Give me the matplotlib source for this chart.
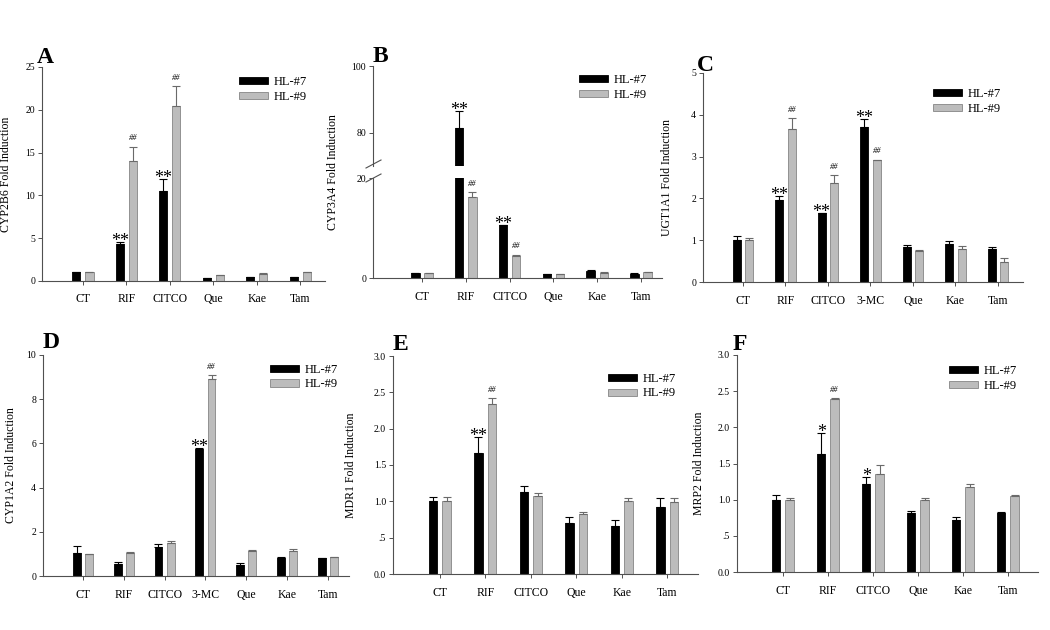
import numpy as np
import matplotlib
matplotlib.use("Agg")
import matplotlib.pyplot as plt
from matplotlib.lines import Line2D
from matplotlib.patches import Patch

plt.rcParams["font.family"] = ["Liberation Serif", "DejaVu Serif"]

W, H = 1050, 630
BLACK = "#000000"
GRAY = "#bcbcbc"
GRAY_EDGE = "#858585"
AXIS_COL = "#505050"

CATS6 = ["CT", "RIF", "CITCO", "Que", "Kae", "Tam"]
CATS7 = ["CT", "RIF", "CITCO", "3-MC", "Que", "Kae", "Tam"]

# A: CYP2B6
a_hl7 = [1.0, 4.3, 10.5, 0.3, 0.45, 0.45]
a_hl7_err = [0.05, 0.3, 1.4, 0.03, 0.03, 0.03]
a_hl9 = [1.0, 14.0, 20.5, 0.7, 0.85, 1.0]
a_hl9_err = [0.1, 1.7, 2.3, 0.05, 0.05, 0.05]
a_star = ["", "**", "**", "", "", ""]
a_hash = ["", "##", "##", "", "", ""]

# B: CYP3A4 (broken axis)
b_hl7 = [1.0, 81.5, 10.6, 0.8, 1.5, 0.9]
b_hl7_err = [0.05, 5.0, 0.1, 0.05, 0.05, 0.05]
b_hl9 = [1.0, 16.3, 4.4, 0.8, 1.1, 1.2]
b_hl9_err = [0.05, 0.9, 0.3, 0.05, 0.05, 0.05]
b_star = ["", "**", "**", "", "", ""]
b_hash = ["", "##", "##", "", "", ""]

# C: UGT1A1
c_hl7 = [1.0, 1.95, 1.65, 3.7, 0.83, 0.9, 0.8]
c_hl7_err = [0.1, 0.1, 0.01, 0.2, 0.05, 0.08, 0.03]
c_hl9 = [1.0, 3.65, 2.37, 2.92, 0.73, 0.8, 0.48]
c_hl9_err = [0.05, 0.28, 0.18, 0.01, 0.04, 0.05, 0.1]
c_star = ["", "**", "**", "**", "", "", ""]
c_hash = ["", "##", "##", "##", "", "", ""]

# D: CYP1A2
d_hl7 = [1.05, 0.55, 1.3, 5.75, 0.5, 0.8, 0.8]
d_hl7_err = [0.3, 0.08, 0.15, 0.03, 0.08, 0.07, 0.03]
d_hl9 = [1.0, 1.05, 1.5, 8.9, 1.15, 1.15, 0.85]
d_hl9_err = [0.01, 0.02, 0.08, 0.2, 0.03, 0.08, 0.01]
d_star = ["", "", "", "**", "", "", ""]
d_hash = ["", "", "", "##", "", "", ""]

# E: MDR1
e_hl7 = [1.0, 1.67, 1.13, 0.7, 0.66, 0.92]
e_hl7_err = [0.06, 0.22, 0.08, 0.08, 0.09, 0.12]
e_hl9 = [1.0, 2.34, 1.07, 0.83, 1.0, 0.99]
e_hl9_err = [0.06, 0.08, 0.05, 0.02, 0.05, 0.06]
e_star = ["", "**", "", "", "", ""]
e_hash = ["", "##", "", "", "", ""]

# F: MRP2
f_hl7 = [1.0, 1.63, 1.22, 0.82, 0.72, 0.81]
f_hl7_err = [0.07, 0.29, 0.09, 0.03, 0.04, 0.02]
f_hl9 = [1.0, 2.39, 1.35, 1.0, 1.18, 1.05]
f_hl9_err = [0.02, 0.01, 0.13, 0.02, 0.03, 0.01]
f_star = ["", "*", "*", "", "", ""]
f_hash = ["", "##", "", "", "", ""]

BAR_W = 0.19
OFF = 0.15

fig = plt.figure(figsize=(W / 100, H / 100), dpi=100)


def add_axes(l, r, t, b):
    return fig.add_axes([l / W, 1 - b / H, (r - l) / W, (b - t) / H])


def style(ax):
    for s in ["top", "right"]:
        ax.spines[s].set_visible(False)
    for s in ["left", "bottom"]:
        ax.spines[s].set_color(AXIS_COL)
        ax.spines[s].set_linewidth(0.8)
    ax.tick_params(axis="y", labelsize=7, length=3, width=0.7, color=AXIS_COL, pad=2)
    ax.tick_params(axis="x", labelsize=8.5, length=3, width=0.7, color=AXIS_COL, pad=6)


def mark(ax, text, x, y, star):
    if star:
        ax.annotate(text, (x, y), xytext=(0, -3), textcoords="offset points",
                    ha="center", va="baseline", fontsize=13, annotation_clip=False)
    else:
        ax.annotate(text, (x, y), xytext=(0, 3), textcoords="offset points",
                    ha="center", va="bottom", fontsize=6, style="italic",
                    annotation_clip=False)


def draw_bars(ax, cats, hl7, e7, hl9, e9, stars, hashes, ann=True):
    x = np.arange(len(cats))
    ax.bar(x - OFF, hl7, BAR_W, color=BLACK, edgecolor=BLACK, linewidth=0.6, zorder=2)
    ax.bar(x + OFF, hl9, BAR_W, color=GRAY, edgecolor=GRAY_EDGE, linewidth=0.6, zorder=2)
    ax.errorbar(x - OFF, hl7, yerr=[np.zeros(len(x)), e7], fmt="none",
                ecolor=BLACK, elinewidth=0.8, capsize=3, capthick=0.8, zorder=3)
    ax.errorbar(x + OFF, hl9, yerr=[np.zeros(len(x)), e9], fmt="none",
                ecolor="#6a6a6a", elinewidth=0.8, capsize=3, capthick=0.8, zorder=3)
    ax.set_xticks(x)
    ax.set_xticklabels(cats)
    if not ann:
        return
    for i in range(len(cats)):
        if stars[i]:
            mark(ax, stars[i], x[i] - OFF, hl7[i] + e7[i], True)
        if hashes[i]:
            mark(ax, hashes[i], x[i] + OFF, hl9[i] + e9[i], False)


def finish(ax, label, xlim, ylim, yticks, ytl, label_dx, letter, lx, ly):
    style(ax)
    ax.set_xlim(*xlim)
    ax.set_ylim(*ylim)
    ax.set_yticks(yticks)
    ax.set_yticklabels(ytl)
    ax.set_ylabel(label, fontsize=8.5)
    bb = ax.get_position()
    ax.yaxis.set_label_coords(-label_dx / (bb.width * W), 0.5)
    fig.text(lx / W, 1 - ly / H, letter, fontsize=17, fontweight="bold")


def legend(ax, x, y):
    handles = [Patch(facecolor=BLACK, edgecolor=BLACK, linewidth=0.6),
               Patch(facecolor=GRAY, edgecolor=GRAY_EDGE, linewidth=0.6)]
    ax.legend(handles, ["HL-#7", "HL-#9"], loc="upper left",
              bbox_to_anchor=(x / W, 1 - y / H), bbox_transform=fig.transFigure,
              frameon=False, fontsize=9, handlelength=2.3, handleheight=0.5,
              handletextpad=0.5, labelspacing=0.2, borderpad=0, borderaxespad=0)


# Panel A
ax = add_axes(42, 325, 67, 281)
draw_bars(ax, CATS6, a_hl7, a_hl7_err, a_hl9, a_hl9_err, a_star, a_hash)
finish(ax, "CYP2B6 Fold Induction", (-0.94, 5.57), (0, 25), [0, 5, 10, 15, 20, 25],
       ["0", "5", "10", "15", "20", "25"], 30, "A", 37, 63)
legend(ax, 239, 76)

# Panel B (broken axis)
axt = add_axes(373, 662, 66, 166.5)
axb = add_axes(373, 662, 178, 278)
draw_bars(axt, CATS6, b_hl7, b_hl7_err, b_hl9, b_hl9_err, b_star, b_hash, ann=False)
draw_bars(axb, CATS6, b_hl7, b_hl7_err, b_hl9, b_hl9_err, b_star, b_hash, ann=False)
xb = np.arange(len(CATS6))
for i in range(len(CATS6)):
    if b_star[i]:
        top = b_hl7[i] + b_hl7_err[i]
        mark(axt if top > 20 else axb, b_star[i], xb[i] - OFF, top, True)
    if b_hash[i]:
        top = b_hl9[i] + b_hl9_err[i]
        mark(axt if top > 20 else axb, b_hash[i], xb[i] + OFF, top, False)
for a in (axt, axb):
    style(a)
    a.set_xlim(-1.12, 5.48)
axt.set_ylim(70, 100)
axt.set_yticks([80, 100])
axt.spines["bottom"].set_visible(False)
axt.tick_params(axis="x", bottom=False, labelbottom=False)
axb.set_ylim(0, 20)
axb.set_yticks([0, 20])
fig.text(333 / W, 1 - 172 / H, "CYP3A4 Fold Induction", rotation=90, fontsize=8.5,
         ha="center", va="center")
fig.text(373 / W, 1 - 62 / H, "B", fontsize=17, fontweight="bold")
for yb in (164, 178):
    fig.add_artist(Line2D([366 / W, 381 / W], [1 - (yb + 4) / H, 1 - (yb - 4) / H],
                          color=AXIS_COL, linewidth=0.8))
legend(axt, 579, 74)

# Panel C
ax = add_axes(703, 1023, 73, 282)
draw_bars(ax, CATS7, c_hl7, c_hl7_err, c_hl9, c_hl9_err, c_star, c_hash)
finish(ax, "UGT1A1 Fold Induction", (-0.94, 6.59), (0, 5), [0, 1, 2, 3, 4, 5],
       ["0", "1", "2", "3", "4", "5"], 30, "C", 697, 71)
legend(ax, 933, 88)

# Panel D
ax = add_axes(43, 349, 355, 576)
draw_bars(ax, CATS7, d_hl7, d_hl7_err, d_hl9, d_hl9_err, d_star, d_hash)
finish(ax, "CYP1A2 Fold Induction", (-0.98, 6.52), (0, 10), [0, 2, 4, 6, 8, 10],
       ["0", "2", "4", "6", "8", "10"], 26, "D", 43, 348)
legend(ax, 270, 364)

# Panel E
ax = add_axes(393, 698, 356, 574)
draw_bars(ax, CATS6, e_hl7, e_hl7_err, e_hl9, e_hl9_err, e_star, e_hash)
finish(ax, "MDR1 Fold Induction", (-1.03, 5.68), (0, 3), [0, 0.5, 1, 1.5, 2, 2.5, 3],
       ["0.0", ".5", "1.0", "1.5", "2.0", "2.5", "3.0"], 36, "E", 393, 350)
legend(ax, 608, 373)

# Panel F
ax = add_axes(737, 1038, 355, 572)
draw_bars(ax, CATS6, f_hl7, f_hl7_err, f_hl9, f_hl9_err, f_star, f_hash)
finish(ax, "MRP2 Fold Induction", (-1.02, 5.67), (0, 3), [0, 0.5, 1, 1.5, 2, 2.5, 3],
       ["0.0", ".5", "1.0", "1.5", "2.0", "2.5", "3.0"], 32, "F", 733, 350)
legend(ax, 949, 365)

fig.savefig("out.png", dpi=100, facecolor="white")
